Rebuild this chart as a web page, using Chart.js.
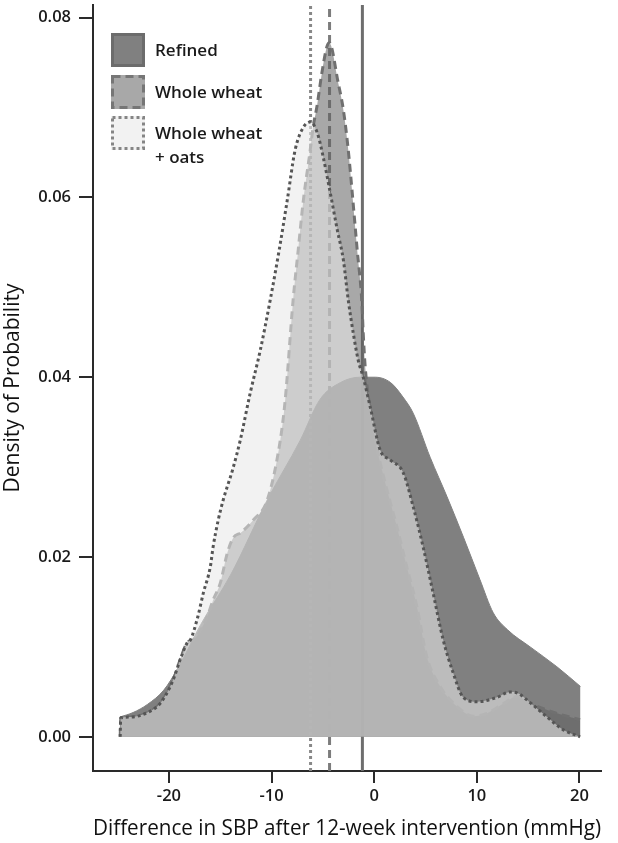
<!DOCTYPE html>
<html>
<head>
<meta charset="utf-8">
<script src="https://cdn.jsdelivr.net/npm/chart.js@4"></script>
<style>
  body { margin: 0; background: #fff; }
  #wrap { width: 618px; height: 843px; }
</style>
</head>
<body>
<div id="wrap"><canvas id="myChart" width="618" height="843"></canvas></div>
<script>
// density curves (x = mmHg, y = density)
const refinedX = [-24.8, -23.5, -22.1, -20.5, -19.1, -16.9, -14.0, -10.4, -7.2, -5.3, -3.3, -1.4, 0.1, 1.6, 2.8, 3.8, 5.45, 7.1, 8.7, 10.3, 11.6, 13.0, 15.2, 17.8, 20.1]
const refinedY = [0.0022, 0.0027, 0.0036, 0.0052, 0.0077, 0.0125, 0.018, 0.0264, 0.033, 0.0375, 0.0394, 0.040, 0.040, 0.0394, 0.0378, 0.036, 0.0311, 0.0267, 0.0222, 0.0175, 0.0138, 0.0119, 0.0100, 0.0078, 0.0056]

const wheatX = [-24.75, -24.7, -23.8, -22.1, -20.8, -19.6, -18.9, -18.2, -17.6, -16.3, -15.7, -15.0, -14.3, -13.7, -13.0, -11.8, -10.4, -9.15, -8.67, -7.9, -7.4, -6.9, -6.23, -5.94, -5.58, -5.09, -4.6, -4.38, -3.5, -3.0, -2.53, -2.14, -1.66, -1.2, -1.07, -0.88, -0.39, 0.1, 0.58, 1.24, 2.2, 3.18, 4.16, 5.13, 6.43, 8.05, 9.67, 10.97, 12.6, 13.9, 15.2, 16.8, 18.4, 20.06]
const wheatY = [0, 0.0021, 0.0022, 0.0027, 0.0038, 0.0063, 0.0086, 0.0105, 0.0108, 0.0133, 0.0152, 0.0171, 0.0205, 0.0222, 0.0227, 0.0241, 0.0264, 0.033, 0.0375, 0.0486, 0.0542, 0.0597, 0.0653, 0.0679, 0.0701, 0.0739, 0.0768, 0.0772, 0.0727, 0.0697, 0.0653, 0.0605, 0.0542, 0.0483, 0.0449, 0.0412, 0.0364, 0.033, 0.0305, 0.0275, 0.0234, 0.0189, 0.0145, 0.0089, 0.0056, 0.0034, 0.0023, 0.0026, 0.0037, 0.0045, 0.0037, 0.003, 0.0024, 0.0019]

const oatsX = [-24.75, -24.7, -23.8, -22.1, -20.8, -19.6, -18.9, -18.2, -17.9, -17.2, -16.65, -15.97, -15.7, -15.2, -14.7, -13.8, -13.05, -12.07, -11.1, -10.13, -9.25, -8.47, -7.7, -6.9, -6.23, -5.55, -4.97, -4.28, -3.6, -3.0, -2.53, -2.04, -1.56, -1.07, -0.39, 0.58, 1.56, 2.82, 3.8, 4.77, 5.74, 6.72, 7.7, 8.67, 10.03, 11.98, 13.24, 13.9, 15.2, 16.85, 18.4, 20.06]
const oatsY = [0, 0.0021, 0.0022, 0.0027, 0.0038, 0.0063, 0.0086, 0.0105, 0.0108, 0.0133, 0.016, 0.0189, 0.0211, 0.0241, 0.0264, 0.0297, 0.033, 0.0383, 0.043, 0.0486, 0.0542, 0.0597, 0.0653, 0.0678, 0.0684, 0.0672, 0.0645, 0.0605, 0.0564, 0.053, 0.0486, 0.0449, 0.0419, 0.040, 0.0367, 0.0319, 0.0308, 0.0294, 0.0256, 0.0211, 0.016, 0.0108, 0.0071, 0.0044, 0.0039, 0.0044, 0.005, 0.0049, 0.0038, 0.0022, 0.0008, 0.0]

// medians: refined, whole wheat, whole wheat + oats
const medians = [-1.15, -4.35, -6.2]

const xTicks = [-20, -10, 0, 10, 20]
const yTicks = [0, 0.02, 0.04, 0.06, 0.08]
const xMin = -27.4, xMax = 22.1
const yMin = -0.0038, yMax = 0.0814

const legendNames = ['Refined', 'Whole wheat', ['Whole wheat', '+ oats']]

const FONT = "'Open Sans', 'DejaVu Sans', sans-serif"
const toPts = (xs, ys) => xs.map((x, i) => ({ x: x, y: ys[i] }))
const vline = (m) => [{ x: m, y: yMin }, { x: m, y: yMax }]

const refinedFill = 'rgb(128,128,128)'
const wheatFill = 'rgba(95,95,95,0.543)'
const oatsFill = 'rgba(232,232,232,0.575)'

const styles = [
  { fill: refinedFill, border: '#6c6c6c', dash: [] },
  { fill: wheatFill, border: '#767676', dash: [8, 5] },
  { fill: oatsFill, border: '#858585', dash: [3, 3] }
]

// draws the boxed legend in the top left of the plot
const boxLegend = {
  id: 'boxLegend',
  afterDraw(chart) {
    const c = chart.ctx
    const tops = [33, 75, 116]
    c.save()
    styles.forEach((s, i) => {
      const t = tops[i]
      c.fillStyle = '#fff'
      c.fillRect(111, t, 34, 34)
      c.fillStyle = s.fill
      c.fillRect(111, t, 34, 34)
      c.setLineDash(s.dash)
      c.lineWidth = 3
      c.strokeStyle = s.border
      c.strokeRect(112.5, t + 1.5, 31, 31)
      c.setLineDash([])
      c.fillStyle = '#1a1a1a'
      c.font = '600 17px ' + FONT
      c.textBaseline = 'middle'
      const name = legendNames[i]
      if (Array.isArray(name)) {
        c.fillText(name[0], 155, t + 18)
        c.fillText(name[1], 155, t + 42)
      } else {
        c.fillText(name, 155, t + 18)
      }
    })
    c.restore()
  }
}

const ctx = document.getElementById('myChart')

const data = {
  datasets: [
    {
      label: 'Whole wheat + oats',
      data: toPts(oatsX, oatsY),
      order: 1,
      fill: 'origin',
      backgroundColor: oatsFill,
      borderColor: '#555',
      borderWidth: 3,
      borderDash: [3, 3],
      cubicInterpolationMode: 'monotone'
    },
    {
      label: 'Whole wheat',
      data: toPts(wheatX, wheatY),
      order: 2,
      fill: 'origin',
      backgroundColor: wheatFill,
      borderColor: '#707070',
      borderWidth: 3,
      borderDash: [8, 5],
      cubicInterpolationMode: 'monotone'
    },
    // median lines sit under the whole wheat and oats fills
    {
      label: 'median refined',
      data: vline(medians[0]),
      order: 3,
      fill: false,
      borderColor: '#6e6e6e',
      borderWidth: 3
    },
    {
      label: 'median whole wheat',
      data: vline(medians[1]),
      order: 3,
      fill: false,
      borderColor: '#7c7c7c',
      borderWidth: 3,
      borderDash: [8, 5]
    },
    {
      label: 'median oats',
      data: vline(medians[2]),
      order: 3,
      fill: false,
      borderColor: '#888',
      borderWidth: 3,
      borderDash: [3, 3]
    },
    {
      label: 'Refined',
      data: toPts(refinedX, refinedY),
      order: 4,
      fill: 'origin',
      backgroundColor: refinedFill,
      borderColor: refinedFill,
      borderWidth: 1,
      cubicInterpolationMode: 'monotone'
    }
  ]
}

const options = {
  responsive: false,
  animation: false,
  events: [],
  layout: { padding: { top: 5, right: 17, left: 0, bottom: 0 } },
  elements: { point: { radius: 0 }, line: { tension: 0 } },
  scales: {
    x: {
      type: 'linear',
      min: xMin,
      max: xMax,
      afterBuildTicks: (axis) => { axis.ticks = xTicks.map((v) => ({ value: v })) },
      afterFit: (scale) => { scale.height = 72; scale.paddingLeft = 0; scale.paddingRight = 0 },
      border: { display: true, color: '#2a2a2a', width: 2 },
      grid: { drawOnChartArea: false, drawTicks: true, tickLength: 12, color: '#2a2a2a', lineWidth: 2 },
      ticks: {
        color: '#1a1a1a',
        font: { family: FONT, size: 16.5, weight: '600' },
        padding: 3,
        maxRotation: 0,
        callback: (v) => String(v)
      },
      title: {
        display: true,
        text: 'Difference in SBP after 12-week intervention (mmHg)',
        color: '#111',
        font: { family: FONT, size: 21, weight: '500' },
        padding: { top: 0, bottom: 1 }
      }
    },
    y: {
      type: 'linear',
      min: yMin,
      max: yMax,
      afterBuildTicks: (axis) => { axis.ticks = yTicks.map((v) => ({ value: v })) },
      afterFit: (scale) => { scale.width = 93; scale.paddingTop = 0; scale.paddingBottom = 0 },
      border: { display: true, color: '#2a2a2a', width: 2 },
      grid: { drawOnChartArea: false, drawTicks: true, tickLength: 14, color: '#2a2a2a', lineWidth: 2 },
      ticks: {
        color: '#1a1a1a',
        font: { family: FONT, size: 16.5, weight: '600' },
        padding: 8,
        callback: (v) => v.toFixed(2)
      },
      title: {
        display: true,
        text: 'Density of Probability',
        color: '#111',
        font: { family: FONT, size: 21, weight: '500' },
        padding: { top: 0, bottom: 0 }
      }
    }
  },
  plugins: {
    legend: { display: false },
    tooltip: { enabled: false }
  }
}

new Chart(ctx, {
  type: 'line',
  data,
  options,
  plugins: [boxLegend]
})
</script>
</body>
</html>
